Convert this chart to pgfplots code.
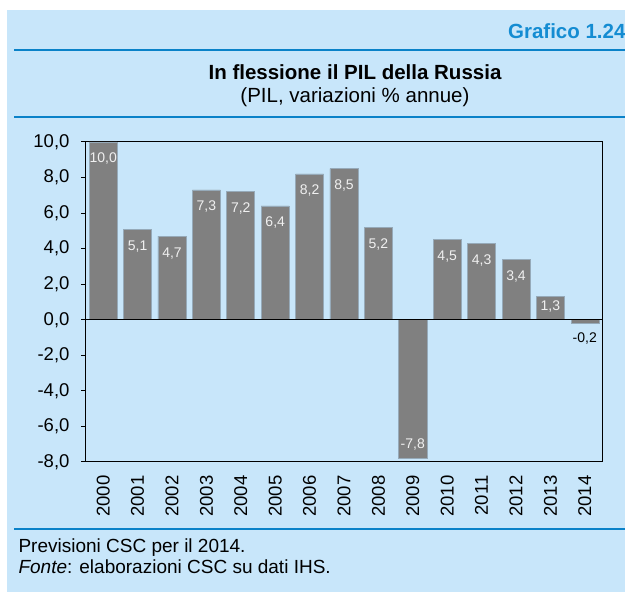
\documentclass[border=0pt]{standalone}
\usepackage{fontspec}
\setmainfont{Liberation Sans}
\usepackage{pgfplots}
\pgfplotsset{compat=1.18}
\usepackage{pgfplotstable}
\definecolor{bgblue}{RGB}{200,230,250}
\definecolor{lineblue}{RGB}{10,130,200}
\definecolor{headblue}{RGB}{20,140,210}
\definecolor{bargray}{RGB}{128,128,128}

% anno, PIL (var. %), spostamento etichetta
\pgfplotstableread{
x  y     dy
0  10.0  -17
1  5.1   -17
2  4.7   -17
3  7.3   -17
4  7.2   -17
5  6.4   -17
6  8.2   -17
7  8.5   -17
8  5.2   -17
9  -7.8  14
10 4.5   -17
11 4.3   -17
12 3.4   -17
13 1.3   -10
}\pil
\pgfplotstableread{
x  y     dy
14 -0.2  -15
}\pilfc

\begin{document}
\begin{tikzpicture}
\useasboundingbox (0pt,0pt) rectangle (625pt,592pt);
\clip (0pt,0pt) rectangle (625pt,592pt);
\fill[bgblue] (7pt,0pt) rectangle (625pt,582pt);
\node[anchor=base east, text=headblue, font=\fontsize{20.5}{24}\selectfont\bfseries] at (629pt,553pt) {Grafico 1.24};
\draw[lineblue, line width=2pt] (14pt,542pt) -- (625pt,542pt);
\node[anchor=base, font=\fontsize{20.5}{24}\selectfont\bfseries] at (355pt,512pt) {In flessione il PIL della Russia};
\node[anchor=base, font=\fontsize{20.5}{24}\selectfont] at (355pt,489pt) {(PIL, variazioni \% annue)};
\draw[lineblue, line width=2pt] (14pt,475pt) -- (625pt,475pt);
\draw[lineblue, line width=2pt] (14pt,63pt) -- (625pt,63pt);
\node[anchor=base west, font=\fontsize{19}{22}\selectfont] at (15pt,39pt) {Previsioni CSC per il 2014.};
\node[anchor=base west, font=\fontsize{19}{22}\selectfont] at (15pt,18pt) {\textit{Fonte}: elaborazioni CSC su dati IHS.};

\begin{axis}[
  at={(86pt,130pt)}, anchor=south west,
  scale only axis, width=516pt, height=320pt,
  xmin=-0.5, xmax=14.5, ymin=-8, ymax=10,
  xtick={0,...,14},
  xticklabels={2000,2001,2002,2003,2004,2005,2006,2007,2008,2009,2010,2011,2012,2013,2014},
  xticklabel style={rotate=90, anchor=east, font=\fontsize{18.5}{20}\selectfont},
  xticklabel shift=5pt,
  major x tick style={draw=none},
  ytick={-8,-6,...,10},
  yticklabel style={font=\fontsize{18.5}{20}\selectfont},
  yticklabel shift=8pt,
  ytick pos=left, tick align=outside,
  major tick length=5pt,
  tick style={black, line width=1pt},
  axis line style={black, line width=1pt},
  /pgf/number format/.cd, fixed, fixed zerofill, precision=1, use comma, assume math mode=true,
]
\addplot[ybar, bar width=28pt, bar shift=0pt, fill=bargray, draw={rgb,255:red,150;green,170;blue,185}, line width=0.6pt,
  nodes near coords, nodes near coords align=center,
  visualization depends on={\thisrow{dy} \as \dy},
  every node near coord/.append style={yshift=\dy, text={rgb,255:red,240;green,240;blue,240},
    font=\fontsize{14}{16}\selectfont,
    /pgf/number format/.cd, fixed, fixed zerofill, precision=1, use comma, assume math mode=true}]
  table[x=x, y=y] {\pil};
\addplot[ybar, bar width=28pt, bar shift=0pt, fill=bargray, draw={rgb,255:red,150;green,170;blue,185}, line width=0.6pt,
  nodes near coords, nodes near coords align=center,
  visualization depends on={\thisrow{dy} \as \dy},
  every node near coord/.append style={yshift=\dy, text=black,
    font=\fontsize{14}{16}\selectfont,
    /pgf/number format/.cd, fixed, fixed zerofill, precision=1, use comma, assume math mode=true}]
  table[x=x, y=y] {\pilfc};
\addplot[black, line width=1pt] coordinates {(-0.5,0) (14.5,0)};
\end{axis}
\end{tikzpicture}
\end{document}
